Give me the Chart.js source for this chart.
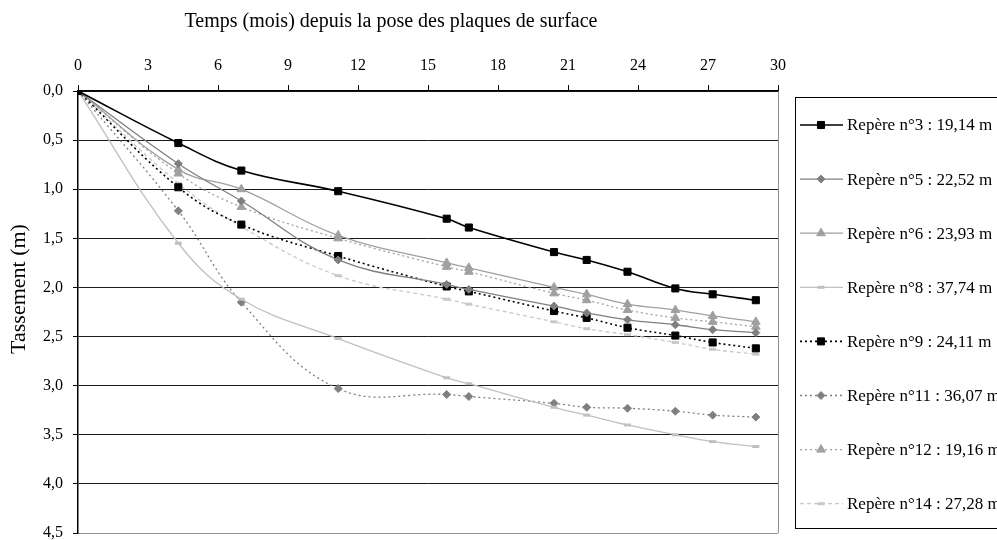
<!DOCTYPE html>
<html>
<head>
<meta charset="utf-8">
<script src="https://cdn.jsdelivr.net/npm/chart.js@4/dist/chart.umd.min.js"></script>
<style>
    html, body { margin: 0; padding: 0; background: #fff; }
    #wrap { width: 997px; height: 540px; }
</style>
</head>
<body>
<div id="wrap"><canvas id="chart" width="997" height="540"></canvas></div>
<script>
// Temps (mois) des relevés
const months = [0, 4.3, 7.0, 11.15, 15.8, 16.75, 20.4, 21.8, 23.55, 25.6, 27.2, 29.05];

// Tassements (m) par repère
const rep3 = [0, 0.53, 0.81, 1.02, 1.30, 1.39, 1.64, 1.72, 1.84, 2.01, 2.07, 2.13];
const rep5 = [0, 0.74, 1.12, 1.72, 1.97, 2.02, 2.19, 2.26, 2.33, 2.38, 2.43, 2.46];
const rep6 = [0, 0.80, 1.00, 1.47, 1.75, 1.80, 2.00, 2.07, 2.17, 2.23, 2.29, 2.35];
const rep8 = [0, 1.55, 2.12, 2.52, 2.92, 2.98, 3.22, 3.30, 3.40, 3.50, 3.57, 3.62];
const rep9 = [0, 0.98, 1.36, 1.68, 1.99, 2.04, 2.24, 2.31, 2.41, 2.49, 2.56, 2.62];
const rep11 = [0, 1.22, 2.15, 3.03, 3.09, 3.11, 3.18, 3.22, 3.23, 3.26, 3.30, 3.32];
const rep12 = [0, 0.84, 1.18, 1.50, 1.79, 1.84, 2.06, 2.13, 2.23, 2.31, 2.35, 2.40];
const rep14 = [0, 0.94, 1.38, 1.88, 2.12, 2.17, 2.35, 2.42, 2.48, 2.56, 2.63, 2.68];

const seriesLabels = [
    'Repère n°3 : 19,14 m',
    'Repère n°5 : 22,52 m',
    'Repère n°6 : 23,93 m',
    'Repère n°8 : 37,74 m',
    'Repère n°9 : 24,11 m',
    'Repère n°11 : 36,07 m',
    'Repère n°12 : 19,16 m',
    'Repère n°14 : 27,28 m'
];

const xTitle = 'Temps (mois) depuis la pose des plaques de surface';
const yTitle = 'Tassement (m)';

const FONT = "'Liberation Serif', 'Times New Roman', serif";

const toPoints = vals => vals.map((v, i) => ({ x: months[i], y: v }));

// style commun d'une série
const makeSeries = (label, vals, color, dash, pointStyle, radius, width) => ({
    label: label,
    data: toPoints(vals),
    borderColor: color,
    borderWidth: width || 1.3,
    borderDash: dash,
    pointStyle: pointStyle,
    pointRadius: radius,
    pointBackgroundColor: color,
    pointBorderColor: color,
    pointBorderWidth: pointStyle === 'line' ? 3 : 1,
    tension: 0.4,
    fill: false
});

const datasets = [
    makeSeries(seriesLabels[0], rep3, '#000000', [], 'rect', 5, 1.6),
    makeSeries(seriesLabels[1], rep5, '#7f7f7f', [], 'rectRot', 4),
    makeSeries(seriesLabels[2], rep6, '#a0a0a0', [], 'triangle', 5),
    makeSeries(seriesLabels[3], rep8, '#c0c0c0', [], 'line', 3.5),
    makeSeries(seriesLabels[4], rep9, '#000000', [2, 3], 'rect', 5, 1.6),
    makeSeries(seriesLabels[5], rep11, '#7f7f7f', [2, 3], 'rectRot', 4),
    makeSeries(seriesLabels[6], rep12, '#a0a0a0', [2, 3], 'triangle', 5),
    makeSeries(seriesLabels[7], rep14, '#c8c8c8', [4, 3], 'line', 3.5)
];

// légende encadrée à droite + titres des axes
const customDecor = {
    id: 'customDecor',
    afterDraw(chart) {
        const ctx = chart.ctx;
        ctx.save();

        // titre de l'axe des temps
        ctx.fillStyle = '#000';
        ctx.font = '20px ' + FONT;
        ctx.textAlign = 'center';
        ctx.textBaseline = 'middle';
        ctx.fillText(xTitle, 391, 22);

        // titre de l'axe vertical
        ctx.save();
        ctx.translate(19, 289);
        ctx.rotate(-Math.PI / 2);
        ctx.font = '22px ' + FONT;
        ctx.fillText(yTitle, 0, 0);
        ctx.restore();

        // cadre de la légende
        ctx.strokeStyle = '#000';
        ctx.lineWidth = 1;
        ctx.strokeRect(795.5, 97.5, 210, 431);

        ctx.font = '17px ' + FONT;
        ctx.textAlign = 'left';
        chart.data.datasets.forEach((ds, i) => {
            const y = 125 + i * 54.1;
            ctx.strokeStyle = ds.borderColor;
            ctx.lineWidth = ds.borderWidth;
            ctx.setLineDash(ds.borderDash);
            ctx.beginPath();
            ctx.moveTo(800, y);
            ctx.lineTo(843, y);
            ctx.stroke();
            ctx.setLineDash([]);
            ctx.fillStyle = ds.pointBackgroundColor;
            ctx.strokeStyle = ds.pointBorderColor;
            ctx.lineWidth = ds.pointBorderWidth;
            Chart.helpers.drawPoint(ctx, {
                pointStyle: ds.pointStyle,
                radius: ds.pointRadius,
                borderWidth: ds.pointBorderWidth,
                rotation: 0
            }, 821, y);
            ctx.fillStyle = '#000';
            ctx.fillText(ds.label, 847, y + 1);
        });
        ctx.restore();
    }
};

new Chart(document.getElementById('chart'), {
    type: 'line',
    data: { datasets: datasets },
    options: {
        responsive: false,
        animation: false,
        layout: { padding: { top: 0, left: 0, right: 219, bottom: 7 } },
        plugins: {
            legend: { display: false },
            tooltip: { enabled: false }
        },
        scales: {
            x: {
                type: 'linear',
                position: 'top',
                min: 0,
                max: 30,
                afterFit: scale => {
                    scale.height = 91;
                    scale.paddingLeft = 0;
                    scale.paddingRight = 0;
                },
                ticks: {
                    stepSize: 3,
                    color: '#000',
                    padding: 10,
                    font: { family: FONT, size: 16 }
                },
                grid: {
                    color: ctx => (ctx.tick && ctx.tick.value === 30) ? '#909090' : 'rgba(0,0,0,0)',
                    tickColor: '#000',
                    tickLength: 6,
                    lineWidth: 1
                },
                border: { color: '#000', width: 1.2 }
            },
            y: {
                type: 'linear',
                reverse: true,
                min: 0,
                max: 4.5,
                afterFit: scale => {
                    scale.width = 78;
                    scale.paddingTop = 0;
                    scale.paddingBottom = 0;
                },
                ticks: {
                    stepSize: 0.5,
                    color: '#000',
                    padding: 10,
                    font: { family: FONT, size: 16 },
                    callback: v => v.toFixed(1).replace('.', ',')
                },
                grid: {
                    color: ctx => (ctx.tick && ctx.tick.value === 4.5) ? '#909090' : '#1a1a1a',
                    tickColor: '#000',
                    tickLength: 5,
                    lineWidth: 1
                },
                border: { color: '#000', width: 1.5 }
            }
        }
    },
    plugins: [customDecor]
});
</script>
</body>
</html>
